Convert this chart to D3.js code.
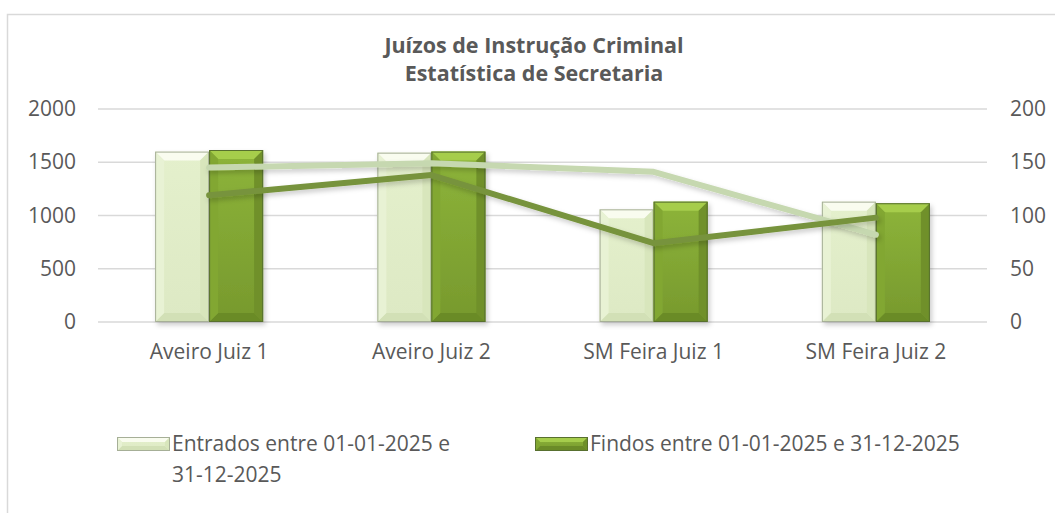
<!DOCTYPE html>
<html>
<head>
<meta charset="utf-8">
<script src="https://cdn.jsdelivr.net/npm/d3@7"></script>
<style>
  body { margin: 0; background: #fff; }
  text { font-family: 'Open Sans', sans-serif; fill: #595959; }
</style>
</head>
<body>
<div id="chart"></div>
<script>
const categories = ['Aveiro Juiz 1', 'Aveiro Juiz 2', 'SM Feira Juiz 1', 'SM Feira Juiz 2']
const entrados = [1600, 1590, 1058, 1130]
const findos = [1615, 1600, 1130, 1115]
const lineLight = [145, 149, 141, 82]
const lineDark = [119, 138, 74, 98]
const leftTicks = [0, 500, 1000, 1500, 2000]
const rightTicks = [0, 50, 100, 150, 200]

const width = 1055
const height = 513
const plot = { left: 98, right: 987, top: 109, bottom: 322 }

const svg = d3.select('#chart')
  .append('svg')
  .attr('width', width)
  .attr('height', height)

const defs = svg.append('defs')
const shadow = defs.append('filter').attr('id', 'shadow')
  .attr('x', '-20%').attr('y', '-20%').attr('width', '140%').attr('height', '140%')
shadow.append('feDropShadow')
  .attr('dx', 2).attr('dy', 3).attr('stdDeviation', 2.5)
  .attr('flood-color', '#000').attr('flood-opacity', 0.2)

// colour sets for the bevelled bars
const styles = [
  { face: ['#e4f0cc', '#dde9c4'], top: '#f9fcef', left: '#e8f2d4', right: '#d8e6bc', bottom: '#d2e0b6', stroke: '#a6af97' },
  { face: ['#8db43a', '#77992d'], top: '#a6cd4c', left: '#82a733', right: '#6f902a', bottom: '#6b8b28', stroke: '#58702f' }
]
styles.forEach((s, i) => {
  const g = defs.append('linearGradient').attr('id', 'face' + i)
    .attr('x1', 0).attr('y1', 0).attr('x2', 0).attr('y2', 1)
  g.append('stop').attr('offset', 0).attr('stop-color', s.face[0])
  g.append('stop').attr('offset', 1).attr('stop-color', s.face[1])
})

// chart border
svg.append('rect')
  .attr('x', 7.5).attr('y', 14.5)
  .attr('width', width).attr('height', height)
  .attr('fill', 'none').attr('stroke', '#d9d9d9').attr('stroke-width', 1.5)

// title
const title = svg.append('text')
  .attr('text-anchor', 'middle')
  .style('font-weight', 'bold')
  .style('font-size', '21.5px')
title.append('tspan').attr('x', 534).attr('y', 53).text('Juízos de Instrução Criminal')
title.append('tspan').attr('x', 534).attr('y', 81).text('Estatística de Secretaria')

const x0 = d3.scaleBand()
  .domain(categories)
  .range([plot.left, plot.right])
  .paddingInner(0.514)
  .paddingOuter(0.257)

const x1 = d3.scaleBand()
  .domain([0, 1])
  .range([0, x0.bandwidth()])

const yLeft = d3.scaleLinear().domain([0, 2000]).range([plot.bottom, plot.top])
const yRight = d3.scaleLinear().domain([0, 200]).range([plot.bottom, plot.top])

// gridlines
svg.append('g')
  .selectAll('line')
  .data(leftTicks)
  .join('line')
  .attr('x1', plot.left).attr('x2', plot.right)
  .attr('y1', (d) => yLeft(d)).attr('y2', (d) => yLeft(d))
  .attr('stroke', '#d9d9d9').attr('stroke-width', 1.5)

// axes
const leftAxis = svg.append('g')
  .attr('transform', `translate(${plot.left}, 0)`)
  .call(d3.axisLeft(yLeft).tickValues(leftTicks).tickFormat(d3.format('d')).tickSize(0).tickPadding(22))
const rightAxis = svg.append('g')
  .attr('transform', `translate(${plot.right}, 0)`)
  .call(d3.axisRight(yRight).tickValues(rightTicks).tickFormat(d3.format('d')).tickSize(0).tickPadding(23))
const bottomAxis = svg.append('g')
  .attr('transform', `translate(0, ${plot.bottom})`)
  .call(d3.axisBottom(x0).tickSize(0).tickPadding(22))
;[leftAxis, rightAxis, bottomAxis].forEach((a) => {
  a.select('.domain').remove()
  a.selectAll('text')
    .style('font-size', '21px')
    .style('font-family', "'Open Sans', sans-serif")
    .attr('fill', '#595959')
})

function bevelBar(g, x, y, w, h, s, i, b) {
  b = Math.min(b, h / 2, w / 2)
  const grp = g.append('g')
  grp.append('rect').attr('x', x).attr('y', y).attr('width', w).attr('height', h)
    .attr('fill', `url(#face${i})`)
  const polys = [
    [[x, y], [x + w, y], [x + w - b, y + b], [x + b, y + b], s.top],
    [[x, y + h], [x + w, y + h], [x + w - b, y + h - b], [x + b, y + h - b], s.bottom],
    [[x, y], [x + b, y + b], [x + b, y + h - b], [x, y + h], s.left],
    [[x + w, y], [x + w - b, y + b], [x + w - b, y + h - b], [x + w, y + h], s.right]
  ]
  polys.forEach((p) => {
    grp.append('polygon')
      .attr('points', p.slice(0, 4).map((q) => q.join(',')).join(' '))
      .attr('fill', p[4])
  })
  grp.append('rect').attr('x', x + 0.5).attr('y', y + 0.5).attr('width', w - 1).attr('height', h - 1)
    .attr('fill', 'none').attr('stroke', s.stroke).attr('stroke-width', 1)
  return grp
}

// bars
const barLayer = svg.append('g').attr('filter', 'url(#shadow)')
categories.forEach((c, ci) => {
  ;[entrados[ci], findos[ci]].forEach((v, si) => {
    const x = x0(c) + x1(si)
    const y = yLeft(v)
    bevelBar(barLayer, x, y, x1.bandwidth(), yLeft(0) - y, styles[si], si, 9)
  })
})

// lines on the secondary axis
const line = d3.line()
  .x((d, i) => x0(categories[i]) + x0.bandwidth() / 2)
  .y((d) => yRight(d))

svg.append('path')
  .attr('d', line(lineLight))
  .attr('fill', 'none').attr('stroke', '#c6d8b0').attr('stroke-width', 6)
  .attr('stroke-linecap', 'round').attr('stroke-linejoin', 'round')
  .attr('filter', 'url(#shadow)')
svg.append('path')
  .attr('d', line(lineDark))
  .attr('fill', 'none').attr('stroke', '#77933c').attr('stroke-width', 6)
  .attr('stroke-linecap', 'round').attr('stroke-linejoin', 'round')
  .attr('filter', 'url(#shadow)')

// legend
const legend = svg.append('g')
const legendItems = [
  { x: 117, lines: ['Entrados entre 01-01-2025 e', '31-12-2025'] },
  { x: 535, lines: ['Findos entre 01-01-2025 e 31-12-2025'] }
]
legendItems.forEach((item, i) => {
  bevelBar(legend, item.x, 437, 53, 14, styles[i], i, 5)
  const t = legend.append('text')
    .style('font-size', '21px')
  item.lines.forEach((l, li) => {
    t.append('tspan').attr('x', item.x + 55).attr('y', 451 + li * 31).text(l)
  })
})
</script>
</body>
</html>
